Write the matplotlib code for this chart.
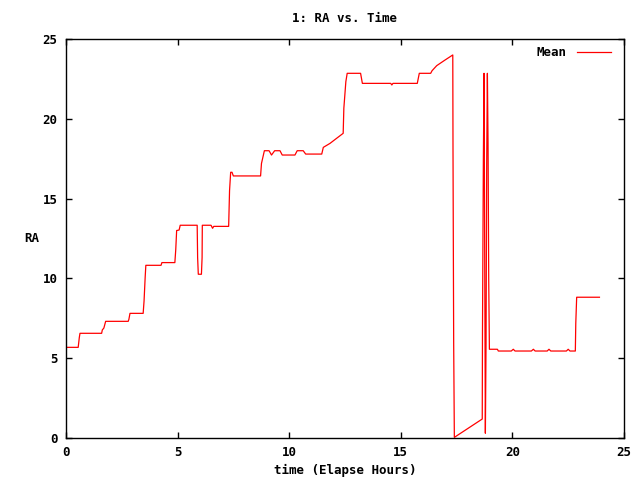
import matplotlib
matplotlib.use("Agg")
import matplotlib.pyplot as plt

# Mean RA vs elapsed time
time_hours = [
    0.00, 0.55, 0.60, 0.63, 1.60, 1.63, 1.70, 1.78, 2.79, 2.82, 2.87, 3.46,
    3.50, 3.55, 3.58, 4.26, 4.30, 4.88, 4.92, 4.96, 5.07, 5.12, 5.88, 5.90,
    5.93, 6.07, 6.10, 6.11, 6.50, 6.57, 6.62, 7.29, 7.33, 7.38, 7.44, 7.50,
    8.72, 8.76, 8.89, 9.10, 9.21, 9.35, 9.59, 9.69, 10.26, 10.36, 10.63, 10.74,
    11.46, 11.53, 11.83, 12.10, 12.42, 12.45, 12.54, 12.60, 13.20, 13.28, 14.55,
    14.60, 14.65, 15.74, 15.83, 16.34, 16.40, 16.61, 16.98, 17.33, 17.34, 17.37,
    17.40, 18.65, 18.66, 18.70, 18.73, 18.76, 18.79, 18.82, 18.85, 18.88, 18.91,
    18.94, 18.97, 19.33, 19.37, 19.95, 20.04, 20.12, 20.85, 20.94, 21.02, 21.56,
    21.64, 21.72, 22.42, 22.50, 22.58, 22.82, 22.84, 22.88, 23.90,
]
ra_mean = [
    5.68, 5.68, 6.30, 6.56, 6.56, 6.77, 6.89, 7.31, 7.31, 7.43, 7.81, 7.81,
    8.58, 10.07, 10.82, 10.82, 10.99, 10.99, 11.80, 13.00, 13.03, 13.33, 13.33, 11.30,
    10.26, 10.26, 11.30, 13.33, 13.33, 13.14, 13.26, 13.26, 15.50, 16.65, 16.65, 16.42,
    16.42, 17.20, 18.00, 18.00, 17.73, 18.00, 18.00, 17.73, 17.73, 18.00, 18.00, 17.79,
    17.79, 18.21, 18.46, 18.75, 19.09, 20.66, 22.33, 22.85, 22.85, 22.22, 22.22,
    22.12, 22.22, 22.22, 22.85, 22.85, 23.01, 23.33, 23.68, 24.00, 18.05, 5.97,
    0.04, 1.19, 6.56, 17.42, 22.85, 11.50, 0.30, 5.93, 17.21, 22.85, 18.46,
    9.90, 5.56, 5.56, 5.45, 5.45, 5.56, 5.45, 5.45, 5.56, 5.45, 5.45,
    5.56, 5.45, 5.45, 5.56, 5.45, 5.45, 7.19, 8.82, 8.82,
]

plt.rcParams["font.family"] = "DejaVu Sans Mono"
plt.rcParams["font.weight"] = "bold"
plt.rcParams["font.size"] = 9

fig = plt.figure(figsize=(6.4, 4.8), dpi=100)
ax = fig.add_axes([0.103, 0.0875, 0.872, 0.83125])

ax.plot(time_hours, ra_mean, color="#ff0000", linewidth=0.9, label="Mean")

ax.set_xlim(0, 25)
ax.set_ylim(0, 25)
ax.set_xticks(range(0, 26, 5))
ax.set_yticks(range(0, 26, 5))
ax.tick_params(direction="in", length=4, width=1, top=True, right=True, pad=6)
for spine in ax.spines.values():
    spine.set_linewidth(1)

ax.set_title("1: RA vs. Time", fontsize=9, fontweight="bold", pad=12)
ax.set_xlabel("time (Elapse Hours)", fontweight="bold", labelpad=3)
ax.set_ylabel("RA", rotation=0, fontweight="bold", labelpad=8, va="center")

leg = ax.legend(loc="upper right", frameon=False, handlelength=2.7,
                handletextpad=0.8, markerfirst=False, borderaxespad=0.0,
                bbox_to_anchor=(0.985, 0.995))

fig.savefig("out.png", dpi=100)
